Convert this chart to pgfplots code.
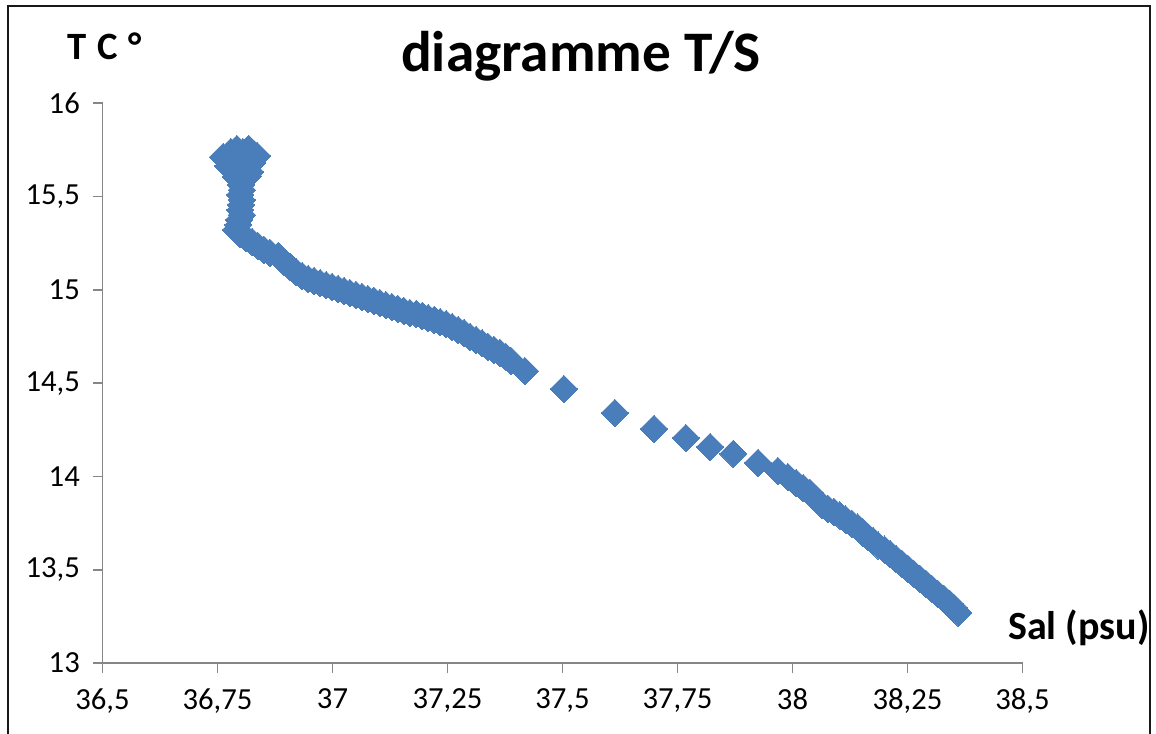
\documentclass[border=0pt]{standalone}
\usepackage{fontspec}
\setmainfont{Carlito}
\usepackage{pgfplots}
\pgfplotsset{compat=1.18}
\definecolor{mk}{HTML}{4A7EBB}
\definecolor{axgray}{HTML}{868686}
\begin{document}
\begin{tikzpicture}[x=0.75pt,y=0.75pt]
\useasboundingbox (0,0) rectangle (1156,733);
\begin{axis}[
  at={(76.875pt,52.5pt)}, anchor=south west,
  scale only axis, width=690pt, height=419.8pt,
  xmin=36.5, xmax=38.5, ymin=13, ymax=16,
  axis lines=left,
  axis line style={-, draw=axgray, line width=1.3pt},
  tick style={draw=axgray, line width=1.3pt},
  tick align=outside, major tick length=7.5pt,
  xtick={36.5,36.75,37,37.25,37.5,37.75,38,38.25,38.5},
  ytick={13,13.5,14,14.5,15,15.5,16},
  minor tick num=0,
  /pgf/number format/assume math mode=true,
  /pgf/number format/fixed, /pgf/number format/precision=2,
  /pgf/number format/use comma,
  scaled ticks=false,
  tick label style={font=\fontsize{23}{26}\selectfont, text=black},
  xticklabel style={yshift=-8pt},
  yticklabel style={xshift=-6pt},
  clip=false,
]
\addplot[only marks, color=mk, mark=square*, mark size=7.3pt,
  mark options={solid, draw=mk, fill=mk, line width=0pt, rotate=45}] coordinates {
(36.762,15.712) (36.779,15.739) (36.792,15.755) (36.805,15.739) (36.818,15.755)
(36.829,15.728) (36.836,15.718) (36.784,15.696) (36.799,15.707) (36.814,15.685)
(36.825,15.680) (36.773,15.664) (36.792,15.643) (36.810,15.653) (36.821,15.632)
(36.790,15.605) (36.805,15.589) (36.816,15.610)
(36.801,15.562) (36.803,15.535) (36.799,15.509) (36.803,15.482) (36.801,15.455)
(36.799,15.428) (36.803,15.401) (36.797,15.375) (36.795,15.348) (36.790,15.321)
(36.799,15.300) (36.812,15.278) (36.825,15.257) (36.838,15.235) (36.851,15.214)
(36.864,15.198) (36.882,15.182) (36.895,15.150) (36.908,15.123) (36.921,15.096)
(36.934,15.074) (36.947,15.058) (36.960,15.048) (36.973,15.037) (36.986,15.026)
(36.999,15.016) (37.012,15.005) (37.025,14.994) (37.038,14.983) (37.051,14.973)
(37.064,14.962) (37.077,14.951) (37.090,14.941) (37.103,14.930) (37.116,14.919)
(37.129,14.908) (37.142,14.898) (37.155,14.887) (37.168,14.876) (37.182,14.871)
(37.195,14.860) (37.208,14.849) (37.221,14.839) (37.234,14.828) (37.247,14.817)
(37.260,14.801) (37.273,14.785) (37.286,14.769) (37.299,14.748) (37.312,14.732)
(37.325,14.715) (37.338,14.694) (37.351,14.678) (37.364,14.662) (37.377,14.640)
(37.388,14.619)
(37.418,14.565) (37.503,14.469) (37.614,14.340) (37.699,14.255) (37.768,14.206)
(37.821,14.158) (37.871,14.121) (37.925,14.072) (37.968,14.029)
(37.990,13.997) (38.008,13.965) (38.023,13.938) (38.038,13.912) (38.051,13.879)
(38.064,13.847) (38.077,13.826) (38.090,13.810) (38.103,13.790) (38.116,13.768)
(38.129,13.746) (38.142,13.725) (38.153,13.700) (38.164,13.675) (38.175,13.655)
(38.186,13.630) (38.200,13.608) (38.212,13.585) (38.225,13.558) (38.238,13.531)
(38.251,13.504) (38.264,13.477) (38.277,13.451) (38.290,13.424) (38.303,13.397)
(38.316,13.370) (38.329,13.344) (38.342,13.317) (38.351,13.295) (38.360,13.269)
};
\end{axis}
\draw[line width=1.5pt, draw=black!90] (8,-5) -- (8,727) -- (1150,727) -- (1150,-5);
\node[anchor=base, inner sep=0pt, font=\fontsize{43}{50}\selectfont\bfseries] at (581,661) {diagramme T/S};
\node[anchor=base west, inner sep=0pt, font=\fontsize{29}{32}\selectfont\bfseries] at (67,673) {T\hspace{8pt}C\hspace{8pt}°};
\node[anchor=base west, inner sep=0pt, font=\fontsize{30}{34}\selectfont\bfseries] at (1008,94) {Sal (psu)};
\end{tikzpicture}
\end{document}
